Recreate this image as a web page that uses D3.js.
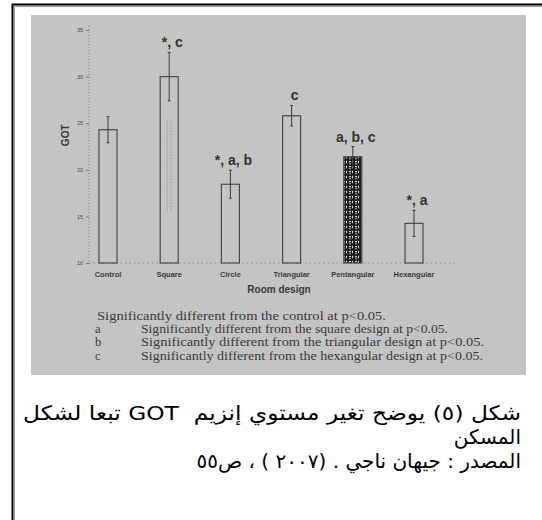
<!DOCTYPE html>
<html>
<head>
<meta charset="utf-8">
<script src="https://cdn.jsdelivr.net/npm/d3@7"></script>
<style>
  html, body { margin: 0; padding: 0; background: #fff; }
  svg { display: block; }
</style>
</head>
<body>
<svg id="chart" width="542" height="520"></svg>
<script>
// ---- data ----
const categories = ["Control", "Square", "Circle", "Triangular", "Pentangular", "Hexangular"];
const means      = [24.3, 30.0, 18.45, 25.8, 21.4, 14.25];
const errors     = [1.4, 2.6, 1.5, 1.1, 1.1, 1.4];
const sigLabels  = ["", "*, c", "*, a, b", "c", "a, b, c", "*, a"];
const yTicks     = [10, 15, 20, 25, 30, 35];
const yLabel     = "GOT";
const xLabel     = "Room design";
const notes = [
  ["", "Significantly different from the control at p<0.05."],
  ["a", "Significantly different from the square design at p<0.05."],
  ["b", "Significantly different from the triangular design at p<0.05."],
  ["c", "Significantly different from the hexangular design at p<0.05."]
];
const noteWidths = [289, 307, 343, 342];
const captionLines = [
  "شكل (٥) يوضح تغير مستوي إنزيم  GOT تبعا لشكل",
  "المسكن",
  "المصدر : جيهان ناجي . (٢٠٠٧ ) ، ص٥٥"
];

// ---- drawing ----
const svg = d3.select("#chart");
const defs = svg.append("defs");

// dense maze-like pattern (Pentangular)
const maze = defs.append("pattern").attr("id", "maze")
  .attr("patternUnits", "userSpaceOnUse").attr("width", 6).attr("height", 5);
maze.append("rect").attr("width", 6).attr("height", 5).attr("fill", "#1c1c1c");
maze.append("rect").attr("x", 1).attr("y", 1).attr("width", 2).attr("height", 1.2).attr("fill", "#d8d8d8");
maze.append("rect").attr("x", 4).attr("y", 0.8).attr("width", 1).attr("height", 2.4).attr("fill", "#d8d8d8");
maze.append("rect").attr("x", 1).attr("y", 3.3).attr("width", 2).attr("height", 0.9).attr("fill", "#bdbdbd");

// faint speckle (Square)
const speck = defs.append("pattern").attr("id", "speck")
  .attr("patternUnits", "userSpaceOnUse").attr("width", 4).attr("height", 3);
speck.append("rect").attr("width", 4).attr("height", 3).attr("fill", "#bdbdbd");
speck.append("rect").attr("x", 0.5).attr("y", 0.5).attr("width", 1.5).attr("height", 1).attr("fill", "#dcdcdc");
speck.append("rect").attr("x", 2.5).attr("y", 1.5).attr("width", 1).attr("height", 1).attr("fill", "#8a8a8a");

// outer frame
svg.append("path").attr("d", "M12.5,520 V4.5 H542")
  .attr("fill", "none").attr("stroke", "#000").attr("stroke-width", 2);
svg.append("path").attr("d", "M14.5,520 V6.5 H542")
  .attr("fill", "none").attr("stroke", "#9a9a9a").attr("stroke-width", 1);

// grey scanned panel
svg.append("rect").attr("x", 31).attr("y", 15).attr("width", 495).attr("height", 360)
  .attr("fill", "#c4c4c4");

const y = d3.scaleLinear().domain([10, 35]).range([263, 30]);
const x = d3.scaleBand().domain(categories).range([77.4, 444.6]).paddingInner(0.706).paddingOuter(0.353);
const bw = x.bandwidth();

// y axis
const yAxis = svg.append("g").attr("transform", "translate(89,0)")
  .call(d3.axisLeft(y).tickValues(yTicks).tickSize(3).tickPadding(3));
yAxis.select(".domain").attr("stroke", "#777").attr("stroke-dasharray", "1,2").attr("stroke-width", 1)
  .attr("d", `M0,${y(35) - 4}V${y(10)}`);
yAxis.selectAll(".tick line").attr("stroke", "#777");
yAxis.selectAll(".tick text").attr("font-family", "Liberation Sans, Arial, sans-serif")
  .attr("font-size", 5.5).attr("fill", "#444");

// x axis (dotted baseline)
const xAxis = svg.append("g").attr("transform", `translate(0,${y(10)})`)
  .call(d3.axisBottom(x).tickSize(0).tickPadding(9));
xAxis.select(".domain").attr("stroke", "#888").attr("stroke-dasharray", "1.5,3")
  .attr("d", "M89,0H455");
xAxis.selectAll(".tick text").attr("font-family", "Liberation Sans, Arial, sans-serif")
  .attr("font-size", 7.5).attr("font-weight", "bold").attr("fill", "#3a3a3a");

// bars
const bars = svg.append("g");
categories.forEach((c, i) => {
  bars.append("rect")
    .attr("x", x(c)).attr("y", y(means[i]))
    .attr("width", bw).attr("height", y(10) - y(means[i]))
    .attr("fill", c === "Pentangular" ? "url(#maze)" : "none")
    .attr("stroke", "#4a4a4a").attr("stroke-width", 1.2);
});
// faint speckle column inside the Square bar
bars.append("rect")
  .attr("x", x("Square") + bw / 2 - 4).attr("y", y(25.3))
  .attr("width", 8).attr("height", y(15.5) - y(25.3))
  .attr("fill", "url(#speck)").attr("opacity", 0.8);

// error bars
const eb = svg.append("g").attr("stroke", "#3a3a3a").attr("stroke-width", 1);
categories.forEach((c, i) => {
  const cx = x(c) + bw / 2;
  eb.append("line").attr("x1", cx).attr("x2", cx)
    .attr("y1", y(means[i] + errors[i])).attr("y2", y(means[i] - errors[i]));
  [means[i] + errors[i], means[i] - errors[i]].forEach(v => {
    eb.append("line").attr("x1", cx - 1.5).attr("x2", cx + 1.5).attr("y1", y(v)).attr("y2", y(v));
  });
});

// significance labels
categories.forEach((c, i) => {
  if (!sigLabels[i]) return;
  svg.append("text")
    .attr("x", x(c) + bw / 2 + 3).attr("y", y(means[i] + errors[i]) - 5)
    .attr("text-anchor", "middle")
    .attr("font-family", "Liberation Sans, Arial, sans-serif")
    .attr("font-size", 14).attr("font-weight", "bold").attr("fill", "#333")
    .text(sigLabels[i]);
});

// axis titles
svg.append("text")
  .attr("transform", `translate(69,${y(23.7)}) rotate(-90)`)
  .attr("text-anchor", "middle")
  .attr("font-family", "Liberation Sans, Arial, sans-serif")
  .attr("font-size", 10).attr("font-weight", "bold").attr("fill", "#3a3a3a")
  .text(yLabel);
svg.append("text")
  .attr("x", 279).attr("y", 293)
  .attr("text-anchor", "middle")
  .attr("font-family", "Liberation Sans, Arial, sans-serif")
  .attr("font-size", 10).attr("font-weight", "bold").attr("fill", "#3a3a3a")
  .text(xLabel);

// footnotes
const fn = svg.append("g").attr("font-family", "Liberation Serif, Times New Roman, serif")
  .attr("font-size", 12.6).attr("fill", "#3a3a3a");
notes.forEach((n, i) => {
  const yy = 320 + i * 13.2;
  if (n[0]) {
    fn.append("text").attr("x", 95).attr("y", yy).text(n[0]);
    fn.append("text").attr("x", 141).attr("y", yy)
      .attr("textLength", noteWidths[i]).attr("lengthAdjust", "spacingAndGlyphs").text(n[1]);
  } else {
    fn.append("text").attr("x", 97).attr("y", yy)
      .attr("textLength", noteWidths[i]).attr("lengthAdjust", "spacingAndGlyphs").text(n[1]);
  }
});

// Arabic caption
const cap = svg.append("g").attr("font-family", "DejaVu Sans, sans-serif")
  .attr("font-size", 20).attr("fill", "#000");
captionLines.forEach((t, i) => {
  const tx = cap.append("text")
    .attr("x", 521).attr("y", 420 + i * 24)
    .attr("direction", "rtl").attr("text-anchor", "start")
    .style("unicode-bidi", "embed").style("white-space", "pre")
    .text(t);
  if (i === 0) tx.attr("textLength", 498).attr("lengthAdjust", "spacingAndGlyphs");
});
</script>
</body>
</html>
